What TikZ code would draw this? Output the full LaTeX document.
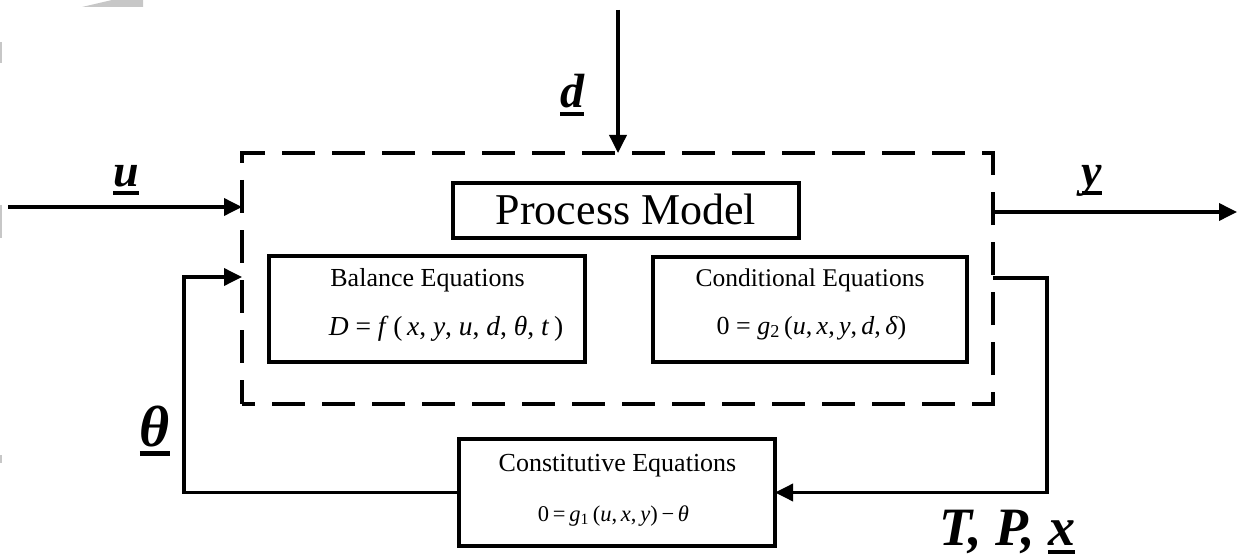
\documentclass[tikz,border=0pt]{standalone}
\usepackage{fontspec}
\setmainfont{Liberation Serif}
\usepackage{graphicx}
\usetikzlibrary{arrows.meta}
\newcommand\ulin[1]{\leavevmode\setbox0=\hbox{#1}\rlap{\rule[-0.17em]{\wd0}{0.085em}}\box0}
\newcommand\fs[1]{\fontsize{#1}{#1}\selectfont}
\tikzset{
  box/.style={draw, line width=4pt, rectangle, inner sep=0pt, outer sep=0pt},
  conn/.style={line width=3.6pt, -{Triangle[length=18pt,width=17pt]}},
  lbl/.style={anchor=base, inner sep=0pt, font=\bfseries\itshape},
  txt/.style={anchor=base, inner sep=0pt},
  ghost/.style={fill=black!22, draw=none}
}
\begin{document}
\begin{tikzpicture}[x=1pt, y=-1pt]
\useasboundingbox (0,0) rectangle (1239,556);
% faint scan artefacts
\fill[ghost] (82,7) -- (112,0) -- (143,0) -- (143,7) -- cycle;
\fill[ghost] (0,42) rectangle (1.5,63);
\fill[ghost] (0,205) rectangle (1.5,238);
\fill[ghost] (0,455) rectangle (1.5,463);

% system (dashed)
\node[draw, line width=4.5pt, dash pattern=on 33pt off 17pt, dash phase=20pt,
      minimum width=751pt, minimum height=251pt, inner sep=0pt, outer sep=0pt]
      (sys) at (617.5,278.5) {};

% boxes
\node[box, minimum width=346pt, minimum height=55pt] (pm) at (626,210.5) {};
\node[box, minimum width=316pt, minimum height=106pt] (bal) at (426.5,309) {};
\node[box, minimum width=314pt, minimum height=105pt] (cond) at (809.5,309.5) {};
\node[box, minimum width=316pt, minimum height=107pt, fill=white] (cons) at (617,492.5) {};

% texts
\node[txt, font=\fs{44}] (pmt) at (626,225) {Process Model};
\node[txt, font=\fs{26}] (balt) at (427.5,286) {Balance Equations};
\node[txt, font=\fs{27.5}] (bale) at (446,335) {\textit{D} = \textit{f}\,(\,\textit{x}, \textit{y}, \textit{u}, \textit{d}, \textit{θ}, \textit{t}\,)};
\node[txt, font=\fs{25.5}] (condt) at (810,286) {Conditional Equations};
\node[txt, font=\fs{26}] (conde) at (811.5,334) {0 = \textit{g}\textsubscript{2}\,(\textit{u},\,\textit{x},\,\textit{y},\,\textit{d},\,\textit{δ})};
\node[txt, font=\fs{26}] (const) at (617.5,471) {Constitutive Equations};
\node[txt, font=\fs{22.5}] (conse) at (613.5,521) {0\,=\,\textit{g}\textsubscript{1}\,(\textit{u},\,\textit{x},\,\textit{y})\,−\,\textit{θ}};

% labels
\node[lbl, font=\bfseries\itshape\fs{46}] (ul) at (126,187) {\ulin{u}};
\node[lbl, font=\bfseries\itshape\fs{48}] (dl) at (572,108) {\ulin{d}};
\node[lbl, font=\bfseries\itshape\fs{46}] (yl) at (1092,187) {\ulin{y}};
\node[lbl, font=\bfseries\itshape\fs{58}] (thl) at (155,446) {\ulin{θ}};
\node[lbl, font=\bfseries\itshape\fs{54}] (tpl) at (1007.5,545) {T, P, \ulin{x}};

% connectors
\coordinate (uL) at (8,207);
\coordinate (dT) at (618,10);
\coordinate (yR) at (1237,212);
\coordinate (tpC) at (1047,278);
\coordinate (thC) at (184,277);

\draw[conn] (uL) -- (sys.west |- uL);
\draw[conn] (dT) -- (sys.north -| dT);
\draw[conn] (sys.east |- yR) -- (yR);
\draw[conn] (sys.east |- tpC) -- (tpC) |- (cons.east);
\draw[conn] (cons.west) -| (thC) -- (sys.west |- thC);
\end{tikzpicture}
\end{document}
